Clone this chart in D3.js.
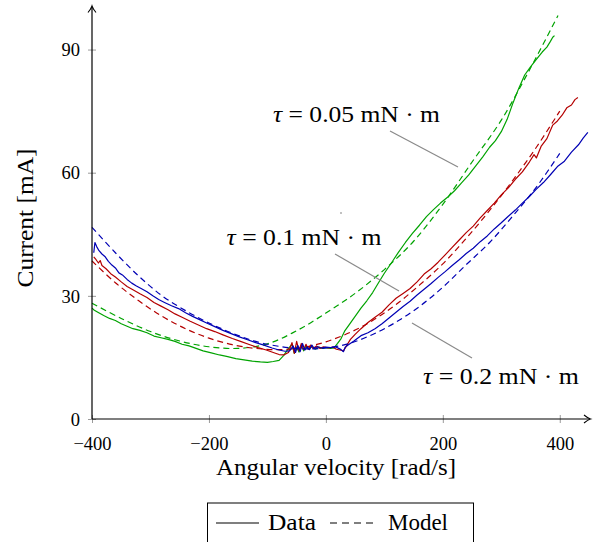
<!DOCTYPE html>
<html><head><meta charset="utf-8">
<script src="https://cdn.jsdelivr.net/npm/d3@7"></script>
<style>body{margin:0;background:#fff}svg{display:block}</style>
</head><body>
<script>
// ---------- data ----------
const xTicks = [-400, -200, 0, 200, 400];
const yTicks = [0, 30, 60, 90];
const xLabel = "Angular velocity [rad/s]";
const yLabel = "Current [mA]";
const legendLabels = ["Data", "Model"];
const seriesNames = ["0.05", "0.1", "0.2"];

// τ = 0.2 mN·m (blue)
const blueData = [[-397,40.5],[-395,43],[-392,42],[-388,41],[-383,40.2],[-378,39.6],[-372,38.4],[-366,37.5],[-360,36.8],[-354,35.6],[-348,35.1],[-340,34],[-332,33.1],[-324,32.4],[-316,31.8],[-306,31],[-296,30],[-286,29.1],[-276,28.4],[-264,27.6],[-252,26.9],[-240,25.9],[-228,25],[-216,24.2],[-204,23.4],[-190,22.5],[-176,21.6],[-162,20.8],[-148,20],[-134,19.3],[-120,18.6],[-106,18],[-92,17.3],[-80,16.8],[-70,16.5],[-62,16.6],[-56,17.8],[-52,16.2],[-48,17.9],[-44,16.4],[-40,18.4],[-36,16.8],[-32,17.6],[-28,16.9],[-24,18],[-20,17.2],[-14,17.6],[-8,17.3],[0,17.5],[8,17.4],[16,17.6],[22,17.2],[26,16.9],[30,16.4],[33,17.5],[38,18],[48,19],[60,20.3],[72,21],[84,22],[96,23.2],[108,24.6],[120,26],[132,27.4],[144,28.7],[156,30.2],[168,31.6],[180,33],[192,34.5],[204,35.9],[216,37.4],[228,38.8],[240,40.3],[252,41.6],[264,43.2],[276,44.6],[288,46.3],[300,47.8],[312,49.4],[324,50.9],[336,52.6],[348,54.2],[360,56],[372,57.6],[384,59.5],[396,61.5],[408,62.8],[420,65],[432,66.8],[440,68.4],[448,69.8]];
const blueModel = [[-400,46.7],[-360,40.5],[-320,34.8],[-280,30],[-240,26.4],[-200,23.4],[-160,20.9],[-120,18.9],[-80,17.7],[-40,17.1],[0,17.3],[40,18.4],[80,20.6],[120,23.6],[160,27.4],[200,32.1],[240,37.6],[280,43],[320,49.5],[360,56.5],[400,64.7]];

// τ = 0.1 mN·m (red)
const redData = [[-397,39.5],[-393,38.8],[-389,38],[-386,38.6],[-383,37.4],[-376,36.6],[-368,35.4],[-360,34.6],[-350,33.4],[-340,32.3],[-330,31.5],[-318,30.5],[-306,29.6],[-294,28.4],[-282,27.5],[-270,26.6],[-258,25.6],[-246,24.8],[-232,23.8],[-218,22.9],[-204,22],[-190,21.3],[-176,20.5],[-160,19.6],[-146,18.9],[-130,18.1],[-116,17.4],[-102,16.8],[-90,16.2],[-80,15.7],[-72,15.6],[-64,16.2],[-58,18.6],[-54,16],[-50,18.9],[-46,16.6],[-42,18.4],[-38,16.9],[-34,18.2],[-30,17],[-26,18],[-22,17.2],[-16,17.8],[-10,17.2],[-4,17.6],[4,17.3],[12,17.5],[18,17],[24,16.8],[30,16.6],[36,18],[42,19.4],[50,20.6],[60,22],[72,23.5],[84,24.8],[96,26],[108,27.8],[120,29.4],[132,30.6],[144,31.8],[156,33.4],[168,35.3],[180,36.6],[192,38.2],[204,40],[216,41.8],[228,43.6],[240,45.4],[252,47],[264,49],[276,50.8],[288,52.6],[300,54.6],[312,56.3],[324,58.4],[336,60.2],[348,62.6],[356,64.4],[360,63.6],[368,66.4],[378,68.3],[388,71.6],[396,72.6],[404,74],[412,75.8],[420,76.5],[426,77.8],[431,78.3]];
const redModel = [[-400,38.5],[-360,33.2],[-320,28.8],[-280,25],[-240,22],[-200,19.7],[-160,18.1],[-120,17.2],[-80,16.9],[-40,17.4],[0,18.8],[40,21],[80,24],[120,27.9],[160,32.6],[200,37.8],[240,44],[280,50.8],[320,58.2],[360,66.2],[400,75]];

// τ = 0.05 mN·m (green)
const greenData = [[-400,27],[-396,26.5],[-390,26],[-380,25.2],[-370,24.5],[-360,24],[-350,23.2],[-340,22.6],[-330,22],[-318,21.6],[-306,21],[-294,20.2],[-282,19.8],[-270,19.4],[-258,18.9],[-246,18.2],[-234,17.8],[-222,17.2],[-210,16.6],[-196,16.1],[-182,15.6],[-168,15.2],[-154,14.7],[-140,14.4],[-126,14.1],[-112,13.9],[-100,13.8],[-90,14],[-80,14.3],[-72,15.5],[-64,17.2],[-58,18.2],[-54,16],[-50,17.5],[-46,16.3],[-42,18],[-38,16.6],[-34,17.8],[-30,17],[-24,17.6],[-18,17],[-12,17.5],[-6,17.2],[0,17.4],[8,17.2],[14,17.3],[20,18.4],[26,19.6],[32,21.4],[40,23],[50,25],[60,27],[70,28.8],[80,30.8],[90,33.2],[100,35.5],[112,38],[124,40.6],[136,43],[148,45.2],[160,47.2],[172,49.3],[184,51],[196,52.6],[208,54],[220,55.6],[232,57.5],[244,59.4],[256,61.6],[268,63.8],[280,66.2],[290,67.8],[300,70],[310,73],[320,77],[330,80.6],[340,83.8],[350,85.8],[360,87.6],[370,89.4],[378,90.6],[384,92],[388,93],[391,93.4]];
const greenModel = [[-400,28.2],[-350,24.5],[-300,21.3],[-250,19],[-200,17.6],[-150,17.2],[-100,18.3],[-50,21.5],[0,25.8],[50,30.6],[100,36.4],[150,43.3],[200,52.3],[250,62.6],[300,72.8],[350,85.5],[397,98.3]];

// ---------- layout ----------
const FONT = "'Liberation Serif', serif";
const W = 596, H = 542;
const svg = d3.select("body").append("svg").attr("width", W).attr("height", H);
const x = d3.scaleLinear().domain([-400, 450]).range([92, 589]);
const y = d3.scaleLinear().domain([0, 100]).range([419, 8.5]);

const colors = {blue: "#0000b4", red: "#b40000", green: "#00a300"};

const lineData = d3.line().x(d => x(d[0])).y(d => y(d[1]));
const lineModel = d3.line().x(d => x(d[0])).y(d => y(d[1])).curve(d3.curveCatmullRom.alpha(0.5));

const series = [
  {data: greenData, model: greenModel, color: colors.green},
  {data: redData, model: redModel, color: colors.red},
  {data: blueData, model: blueModel, color: colors.blue}
];
const g = svg.append("g");
series.forEach(s => {
  g.append("path").attr("d", lineModel(s.model)).attr("fill", "none")
    .attr("stroke", s.color).attr("stroke-width", 1.2).attr("stroke-dasharray", "6,4");
  g.append("path").attr("d", lineData(s.data)).attr("fill", "none")
    .attr("stroke", s.color).attr("stroke-width", 1.2).attr("stroke-linejoin", "round");
});

// axes
const axisG = svg.append("g");
const xAxis = d3.axisBottom(x).tickValues(xTicks).tickSize(0).tickFormat(d => d < 0 ? "\u2212" + Math.abs(d) : d);
const yAxis = d3.axisLeft(y).tickValues(yTicks).tickSize(0);
const gx = axisG.append("g").attr("transform", `translate(0,${y(0)})`).call(xAxis);
const gy = axisG.append("g").attr("transform", `translate(${x(-400)},0)`).call(yAxis);
[gx, gy].forEach(a => { a.select(".domain").remove(); a.attr("font-family", null).attr("font-size", null); });
gx.selectAll(".tick text").attr("dy", null).attr("y", 31).style("font-size", "18.5px").style("font-family", FONT).attr("fill", "#000");
gy.selectAll(".tick text").attr("dy", "0.34em").attr("x", -12).style("font-size", "18.5px").style("font-family", FONT).attr("fill", "#000");
gx.selectAll(".tick").append("line").attr("y1", -4).attr("y2", 4).attr("stroke", "#808080").attr("stroke-width", 0.8);
gy.selectAll(".tick").append("line").attr("x1", -4).attr("x2", 4).attr("stroke", "#808080").attr("stroke-width", 0.8);

// axis lines with arrows
axisG.append("line").attr("x1", x(-400)).attr("x2", 590).attr("y1", y(0)).attr("y2", y(0)).attr("stroke", "#000").attr("stroke-width", 1.2);
axisG.append("line").attr("x1", x(-400)).attr("x2", x(-400)).attr("y1", y(0)).attr("y2", 7).attr("stroke", "#000").attr("stroke-width", 1.2);
axisG.append("path").attr("d", `M584,415 Q588,418.3 590.5,419 Q588,419.7 584,423`).attr("fill", "none").attr("stroke", "#000").attr("stroke-width", 1.1);
axisG.append("path").attr("d", `M88,12.5 Q91.3,8.5 92,6 Q92.7,8.5 96,12.5`).attr("fill", "none").attr("stroke", "#000").attr("stroke-width", 1.1);

function txt(sel) { return sel.style("font-family", FONT).style("font-size", "22.5px").attr("fill", "#000"); }

// axis labels
txt(svg.append("text")).attr("x", 336).attr("y", 475).attr("text-anchor", "middle")
  .attr("textLength", 240).attr("lengthAdjust", "spacingAndGlyphs").text(xLabel);
txt(svg.append("text")).attr("transform", "translate(33,218) rotate(-90)").attr("text-anchor", "middle")
  .attr("textLength", 139).attr("lengthAdjust", "spacingAndGlyphs").text(yLabel);

// annotations
const annots = [
  {name: seriesNames[0], cx: 356.5, by: 122, w: 167, l: [390,131,458,167]},
  {name: seriesNames[1], cx: 304, by: 245, w: 155, l: [335,254,399,291]},
  {name: seriesNames[2], cx: 501, by: 384, w: 156, l: [412,323,472,358]}
];
annots.forEach(a => {
  const t = txt(svg.append("text")).attr("x", a.cx).attr("y", a.by).attr("text-anchor", "middle")
    .attr("textLength", a.w).attr("lengthAdjust", "spacingAndGlyphs");
  t.append("tspan").attr("font-style", "italic").text("\u03c4");
  t.append("tspan").text(" = " + a.name + " mN \u00b7 m");
  svg.append("line").attr("x1", a.l[0]).attr("y1", a.l[1]).attr("x2", a.l[2]).attr("y2", a.l[3])
    .attr("stroke", "#8a8a8a").attr("stroke-width", 1.2);
});
svg.append("circle").attr("cx", 341).attr("cy", 213).attr("r", 0.7).attr("fill", "#555");

// legend
const lg = svg.append("g");
lg.append("rect").attr("x", 207.5).attr("y", 503).attr("width", 266).attr("height", 50)
  .attr("fill", "#fff").attr("stroke", "#000").attr("stroke-width", 1);
lg.append("line").attr("x1", 216).attr("x2", 259).attr("y1", 523).attr("y2", 523).attr("stroke", "#000").attr("stroke-width", 1.2);
txt(lg.append("text")).attr("x", 268).attr("y", 530).attr("textLength", 48).attr("lengthAdjust", "spacingAndGlyphs").text(legendLabels[0]);
lg.append("line").attr("x1", 330).attr("x2", 373).attr("y1", 523).attr("y2", 523).attr("stroke", "#000").attr("stroke-width", 1.2).attr("stroke-dasharray", "7,5");
txt(lg.append("text")).attr("x", 388).attr("y", 530).attr("textLength", 60).attr("lengthAdjust", "spacingAndGlyphs").text(legendLabels[1]);
</script>
</body></html>
